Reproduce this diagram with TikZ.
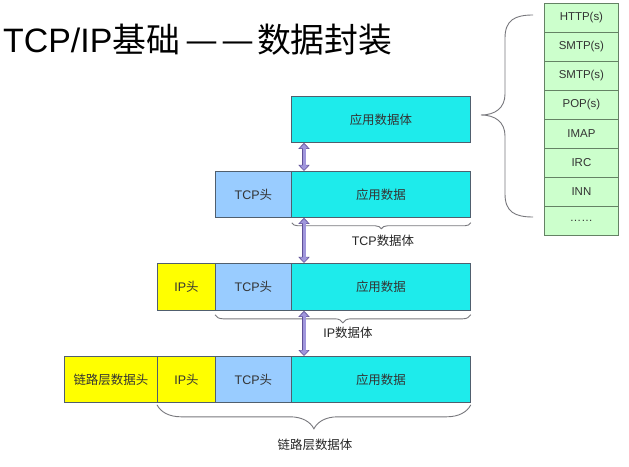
\documentclass[tikz,border=0pt]{standalone}
\usepackage{graphicx}
\usepackage{fontspec}
\setmainfont{Liberation Sans}
\newfontfamily\cjk{Noto Sans CJK SC}
\usetikzlibrary{decorations.pathreplacing,arrows.meta,calc}
\definecolor{appc}{RGB}{30,235,235}
\definecolor{tcpc}{RGB}{153,204,255}
\definecolor{ipc}{RGB}{255,255,0}
\definecolor{greenc}{RGB}{204,255,204}
\definecolor{greenedge}{RGB}{100,130,100}
\definecolor{edgec}{RGB}{80,95,110}
\definecolor{arrc}{RGB}{160,150,220}
\definecolor{arrdark}{RGB}{95,80,150}
\definecolor{bracec}{RGB}{120,120,125}
\begin{document}
\begin{tikzpicture}[x=1bp,y=-1bp,
  cell/.style={draw=edgec, line width=0.8bp, inner sep=0pt, anchor=north west,
    font=\fontsize{12.5}{14}\selectfont, text=black!80},
  appbox/.style={cell, fill=appc},
  tcpbox/.style={cell, fill=tcpc},
  ipbox/.style={cell, fill=ipc},
  stackbox/.style={cell, fill=greenc, draw=greenedge, minimum width=74bp,
    minimum height=29bp, font=\fontsize{11.5}{13}\selectfont},
  dblout/.style={arrdark, line width=4.6bp,
    {Triangle[length=6bp,width=11bp]}-{Triangle[length=6bp,width=11bp]}},
  dblin/.style={arrc, line width=3bp, shorten >=1.2bp, shorten <=1.2bp,
    {Triangle[length=4.4bp,width=8.4bp]}-{Triangle[length=4.4bp,width=8.4bp]}},
  brc/.style={draw=bracec, line width=0.9bp, decorate,
    decoration={brace, amplitude=#1}},
  bigbrace/.style={draw=bracec, line width=0.9bp},
  lab/.style={font=\fontsize{12.5}{14}\selectfont, text=black!85}
]
\fill[white] (0,0) rectangle (629,467);
\useasboundingbox (0,0) rectangle (629,467);

% title
\node[anchor=base west, inner sep=0pt, font=\fontsize{34}{40}\selectfont] (title)
  at (3,53) {TCP/IP{\cjk 基础\hspace{4bp}\makebox[36bp]{\resizebox{33bp}{\height}{—}}\makebox[36bp]{\resizebox{33bp}{\height}{—}}\hspace{1bp}数据封装}};

% row 1
\node[appbox, minimum width=179bp, minimum height=46bp] (a1) at (291,96) {\cjk 应用数据体};

% row 2
\node[tcpbox, minimum width=76bp, minimum height=46bp] (t2) at (215,171) {TCP{\cjk 头}};
\node[appbox, minimum width=179bp, minimum height=46bp] (a2) at (291,171) {\cjk 应用数据};

% row 3
\node[ipbox, minimum width=58bp, minimum height=47bp] (i3) at (157,263) {IP{\cjk 头}};
\node[tcpbox, minimum width=76bp, minimum height=47bp] (t3) at (215,263) {TCP{\cjk 头}};
\node[appbox, minimum width=179bp, minimum height=47bp] (a3) at (291,263) {\cjk 应用数据};

% row 4
\node[ipbox, minimum width=93bp, minimum height=46bp] (l4) at (64,356) {\cjk 链路层数据头};
\node[ipbox, minimum width=58bp, minimum height=46bp] (i4) at (157,356) {IP{\cjk 头}};
\node[tcpbox, minimum width=76bp, minimum height=46bp] (t4) at (215,356) {TCP{\cjk 头}};
\node[appbox, minimum width=179bp, minimum height=46bp] (a4) at (291,356) {\cjk 应用数据};

% braces under rows
\draw[brc=6bp] ($(a2.south east)+(0,5)$) -- ($(t2.south east)+(0,5)$);
\draw[brc=8bp] ($(a3.south east)+(0,4)$) -- ($(t3.south west)+(0,4)$);
\draw[brc=24bp] ($(a4.south east)+(0,2)$) -- ($(i4.south west)+(0,2)$);

\node[lab] (lb2) at (383,241) {TCP{\cjk 数据体}};
\node[lab] (lb3) at (348,333) {IP{\cjk 数据体}};
\node[lab] (lb4) at (315,445) {\cjk 链路层数据体};

% arrows
\coordinate (ax) at (304,0);
\foreach \u/\v in {a1/a2,a2/a3,a3/a4}{
  \draw[dblout] (\u.south -| ax) -- (\v.north -| ax);
  \draw[dblin] (\u.south -| ax) -- (\v.north -| ax);
}

% protocol stack
\foreach \t [count=\i] in {HTTP(s),SMTP(s),SMTP(s),POP(s),IMAP,IRC,INN,……}{
  \node[stackbox] (s\i) at (544,{3+(\i-1)*29}) {\t};
}

% big brace
\draw[bigbrace] (533,15) .. controls (515,15) and (505,20) .. (505,38)
  -- (505,94) .. controls (505,108) and (495,115) .. (481,115)
  .. controls (495,115) and (505,122) .. (505,136)
  -- (505,194) .. controls (505,212) and (515,217) .. (533,217);
\end{tikzpicture}
\end{document}
